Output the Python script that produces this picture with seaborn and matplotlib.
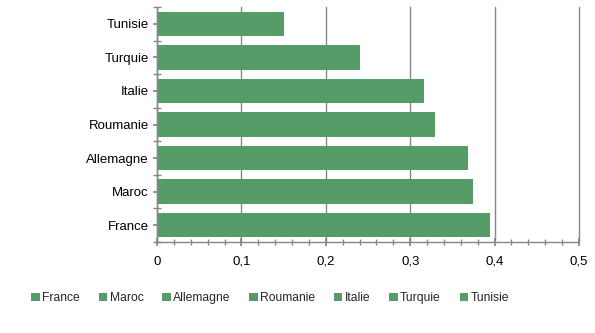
import matplotlib
matplotlib.use("Agg")
import matplotlib.pyplot as plt
import seaborn as sns
import pandas as pd
from matplotlib.patches import Patch
from matplotlib.ticker import MultipleLocator, FuncFormatter

countries = ["Tunisie", "Turquie", "Italie", "Roumanie", "Allemagne", "Maroc", "France"]
values = [0.150, 0.240, 0.316, 0.329, 0.368, 0.374, 0.394]
legend_order = ["France", "Maroc", "Allemagne", "Roumanie", "Italie", "Turquie", "Tunisie"]

color = "#569c69"
grey = "#868686"

sns.set_theme(style="white")
plt.rcParams["font.family"] = ["Liberation Sans", "DejaVu Sans"]

df = pd.DataFrame({"pays": countries, "val": values})

fig = plt.figure(figsize=(5.95, 3.33), dpi=100)
ax = fig.add_axes([157 / 595, 1 - 242 / 333, (579 - 157) / 595, (242 - 7) / 333])

sns.barplot(data=df, y="pays", x="val", order=countries, color=color,
            saturation=1, width=0.73, edgecolor="none", linewidth=0, ax=ax)

ax.set_xlim(0, 0.5)
ax.set_ylim(len(countries) - 0.5, -0.5)
ax.xaxis.set_major_locator(MultipleLocator(0.1))
ax.xaxis.set_minor_locator(MultipleLocator(0.02))
ax.xaxis.set_major_formatter(FuncFormatter(lambda v, p: ("%g" % round(v, 2)).replace(".", ",")))
ax.grid(axis="x", which="major", color=grey, linewidth=1)
for gl in ax.get_xgridlines():
    gl.set_clip_on(False)
ax.set_axisbelow(True)
ax.set_xlabel("")
ax.set_ylabel("")

for s in ["top", "right"]:
    ax.spines[s].set_visible(False)
for s in ["left", "bottom"]:
    ax.spines[s].set_color(grey)
    ax.spines[s].set_linewidth(1)

ax.tick_params(axis="x", which="major", direction="inout", length=6, color=grey,
               labelsize=9.5, labelcolor="black", pad=7, bottom=True)
ax.tick_params(axis="x", which="minor", direction="inout", length=5, color=grey, bottom=True)
ax.tick_params(axis="y", which="major", direction="out", length=3, color=grey,
               labelsize=9.5, labelcolor="black", pad=3, left=True)
ax.set_yticks([i - 0.5 for i in range(len(countries) + 1)], minor=True)
ax.tick_params(axis="y", which="minor", direction="inout", length=6, color=grey, left=True)

handles = [Patch(facecolor=color, edgecolor="none") for _ in legend_order]
fig.legend(handles, legend_order, loc="center", bbox_to_anchor=(0.454, 1 - 298 / 333),
           ncol=7, frameon=False, fontsize=8.7, handlelength=0.7, handleheight=0.7,
           handletextpad=0.2, columnspacing=1.55)

fig.savefig("out.png", dpi=100)
